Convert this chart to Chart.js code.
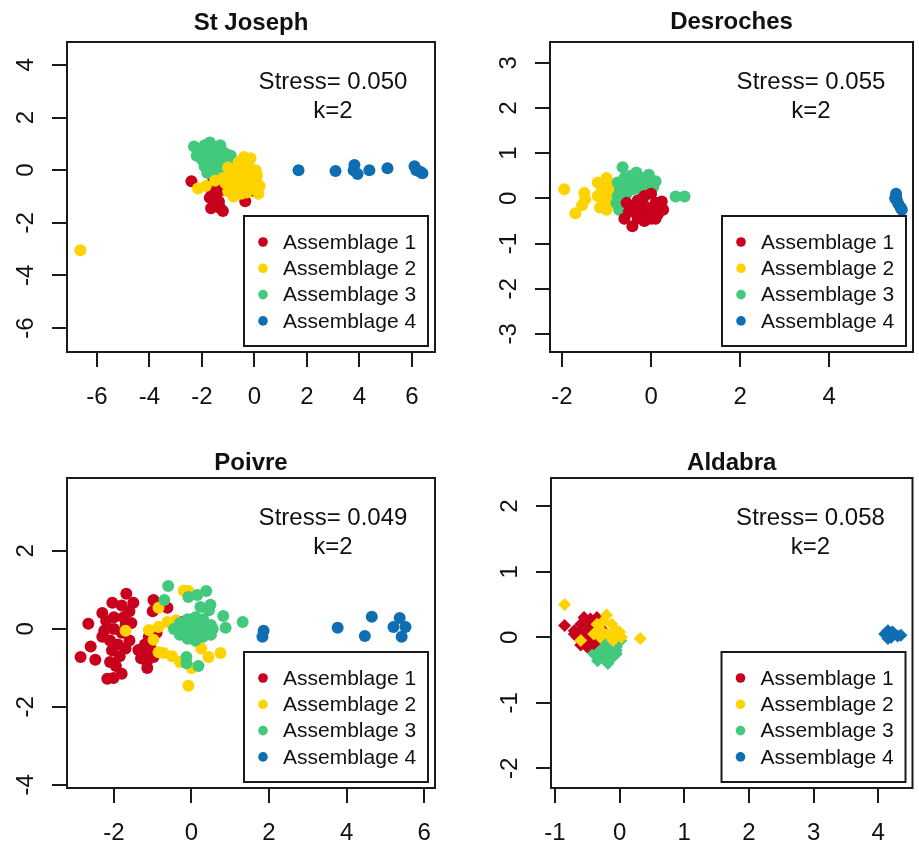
<!DOCTYPE html>
<html>
<head>
<meta charset="utf-8">
<script src="https://cdn.jsdelivr.net/npm/chart.js@4/dist/chart.umd.min.js"></script>
<style>
  html, body { margin: 0; padding: 0; background: #fff; }
  body { position: relative; width: 919px; height: 844px; overflow: hidden; }
  canvas { position: absolute; }
</style>
</head>
<body>
<script>
const FONT = "'Liberation Sans', Arial, Helvetica, sans-serif";

const assemblageLabels = ['Assemblage 1', 'Assemblage 2', 'Assemblage 3', 'Assemblage 4'];
const assemblageColours = ['#C8001E', '#FFD300', '#43C97D', '#0E6EB1'];

// St Joseph
const stJosephA1 = [[-2.4,-0.42],[-1.56,-0.35],[-1.5,-0.55],[-1.6,-0.85],[-1.45,-0.95],[-1.7,-1.05],[-1.35,-1.2],
  [-1.65,-1.45],[-1.2,-1.55],[-1.4,-1.3],[-0.75,-0.9],[-0.35,-1.18],[0.05,-0.45],[-0.25,0.2],[-0.55,-0.4],
  [-1.25,-0.75],[-0.9,-0.7],[0.0,-0.8],[-1.55,-1.15],[-1.3,-1.45]];
const stJosephA2 = [[-2.15,-0.7],[-1.85,-0.6],[-1.5,-0.4],[-1.2,-0.3],[-1.0,0.1],[-0.8,0.0],[-0.6,0.3],[-0.4,0.5],
  [-0.3,0.3],[-0.2,0.1],[-0.5,0.15],[-0.7,-0.2],[-0.9,-0.3],[-0.5,-0.2],[-0.3,-0.1],[-0.1,-0.3],[0.1,-0.2],
  [0.2,-0.6],[0.15,-0.9],[-0.1,-0.7],[-0.3,-0.5],[-0.6,-0.5],[-0.8,-0.6],[-1.0,-0.8],[-0.8,-1.0],[-0.5,-0.9],
  [-0.3,-0.85],[0.0,-0.5],[-0.15,0.45],[-1.1,-0.5],[-0.7,0.05],[-0.45,-0.65],[0.05,0.0],[-0.2,-0.4],
  [-0.65,-0.75],[-6.63,-3.04]];
const stJosephA3 = [[-2.3,0.9],[-2.1,0.75],[-2.2,0.55],[-1.9,0.95],[-1.7,1.05],[-1.6,0.9],[-1.5,0.85],[-1.35,0.8],
  [-1.2,0.7],[-1.05,0.6],[-0.9,0.55],[-1.8,0.7],[-1.6,0.65],[-1.4,0.6],[-1.2,0.45],[-1.0,0.35],[-2.0,0.4],
  [-1.8,0.4],[-1.6,0.35],[-1.4,0.3],[-1.2,0.2],[-1.9,0.15],[-1.7,0.1],[-1.5,0.05],[-1.3,0.0],[-1.6,-0.15],
  [-1.8,-0.1],[-1.4,-0.25],[-1.1,0.1],[-0.95,-0.25],[-1.7,0.85],[-2.0,0.6],[-1.3,0.95]];
const stJosephA4 = [[1.68,0.0],[3.09,-0.03],[3.81,0.2],[3.78,0.0],[3.93,-0.15],[4.38,0.0],[5.07,0.07],[6.1,0.15],
  [6.17,0.0],[6.4,-0.12],[6.3,-0.05]];

// Desroches
const desrochesA1 = [[-0.42,-0.62],[-0.6,-0.45],[-0.5,-0.3],[-0.35,-0.15],[-0.2,-0.05],[0.0,0.1],[-0.1,-0.2],[0.1,-0.1],
  [0.24,-0.07],[0.27,-0.25],[0.15,-0.35],[0.0,-0.45],[-0.15,-0.5],[-0.3,-0.45],[-0.45,-0.2],[-0.25,-0.3],
  [0.05,-0.25],[-0.1,-0.4],[0.1,-0.45],[-0.3,-0.05],[-0.55,-0.1],[-0.15,0.05]];
const desrochesA2 = [[-1.95,0.2],[-1.7,-0.33],[-1.5,0.12],[-1.48,-0.02],[-1.55,-0.15],[-1.2,0.35],[-1.0,0.45],[-0.9,0.3],
  [-1.1,0.2],[-0.95,0.1],[-1.2,0.05],[-1.05,-0.05],[-0.85,-0.1],[-1.15,-0.2],[-1.0,-0.25],[-0.9,0.0],[-1.05,0.3],
  [-0.8,0.15]];
const desrochesA3 = [[-0.64,0.69],[-0.75,0.35],[-0.6,0.45],[-0.45,0.5],[-0.33,0.57],[-0.2,0.45],[-0.05,0.52],[0.1,0.38],
  [0.05,0.25],[-0.1,0.3],[-0.3,0.35],[-0.5,0.3],[-0.7,0.2],[-0.75,0.05],[-0.78,-0.1],[-0.72,-0.25],[-0.55,0.1],
  [-0.4,0.2],[-0.2,0.15],[0.55,0.04],[0.75,0.04],[-0.6,-0.1]];
const desrochesA4 = [[5.5,0.1],[5.48,0.0],[5.52,-0.05],[5.55,-0.12],[5.6,-0.2],[5.63,-0.25],[5.5,0.05]];

// Poivre
const poivreA1 = [[-2.66,0.13],[-2.86,-0.72],[-2.48,-0.79],[-2.6,-0.45],[-2.17,-1.28],[-2.01,-1.26],[-1.8,-1.15],
  [-1.95,-0.95],[-2.1,-0.85],[-1.68,0.9],[-2.04,0.67],[-1.8,0.6],[-2.3,0.41],[-1.5,0.67],[-1.6,0.45],[-1.75,0.3],
  [-2.2,0.2],[-2.0,0.3],[-2.25,-0.05],[-2.0,0.0],[-1.8,-0.1],[-2.1,-0.3],[-1.9,-0.4],[-1.7,-0.5],[-2.05,-0.55],
  [-1.85,-0.7],[-1.6,-0.3],[-2.3,-0.2],[-1.55,0.15],[-1.7,0.1],[-0.98,0.74],[-0.9,0.6],[-0.62,0.54],[-1.0,0.45],
  [-1.14,-1.0],[-0.98,-0.72],[-1.37,-0.54],[-1.2,-0.4],[-1.05,-0.5],[-1.3,-0.75],[-1.1,-0.2],[-1.2,-0.6],
  [-0.28,0.18],[-1.15,-0.85],[-0.9,-0.1]];
const poivreA2 = [[-0.08,0.97],[-0.2,0.98],[-0.85,0.54],[-0.62,0.18],[-0.4,0.22],[-1.1,-0.03],[-0.98,-0.28],[-0.85,0.05],
  [-0.72,-0.62],[-0.5,-0.7],[-0.3,-0.85],[0.0,-1.0],[-0.08,-1.46],[0.44,-0.72],[0.75,-0.62],[0.15,-0.33],
  [-0.85,-0.6],[-1.7,-0.05],[-0.45,0.15],[0.25,-0.5]];
const poivreA3 = [[-0.6,1.1],[-0.7,0.74],[-0.08,0.82],[0.15,0.87],[0.38,0.97],[0.23,0.56],[0.49,0.62],[0.45,0.48],
  [0.82,0.33],[0.88,0.03],[1.32,0.18],[-0.45,0.0],[-0.3,0.15],[-0.3,-0.15],[-0.1,0.25],[-0.1,-0.25],[0.1,0.3],
  [0.1,0.0],[0.1,-0.3],[0.3,0.25],[0.3,-0.2],[0.5,0.1],[0.5,-0.15],[0.0,0.1],[0.2,0.1],[0.35,0.0],[-0.2,0.0],
  [-0.13,-0.72],[-0.13,-0.88],[0.18,-0.95],[0.55,0.0],[-0.05,-0.1]];
const poivreA4 = [[1.86,-0.05],[1.83,-0.2],[3.77,0.03],[4.65,0.31],[4.47,-0.18],[5.37,0.28],[5.21,0.05],[5.52,0.05],
  [5.42,-0.2]];

// Aldabra
const aldabraA1 = [[-0.85,0.18],[-0.7,0.1],[-0.6,0.2],[-0.55,0.3],[-0.45,0.28],[-0.35,0.3],[-0.5,0.1],[-0.4,0.15],
  [-0.3,0.2],[-0.65,0.0],[-0.55,-0.05],[-0.45,0.0],[-0.35,-0.05],[-0.6,-0.12],[-0.5,-0.15],[-0.25,0.1],
  [-0.4,-0.1],[-0.7,0.05],[-0.5,0.22],[-0.62,0.08],[-0.45,0.12],[-0.38,0.05],[-0.55,0.02]];
const aldabraA2 = [[-0.85,0.5],[0.32,-0.02],[-0.2,0.34],[-0.25,0.25],[-0.12,0.2],[-0.05,0.1],[0.03,0.0],[-0.3,0.12],
  [-0.18,0.05],[-0.35,0.2],[-0.4,0.05],[-0.6,-0.05],[-0.1,-0.05],[-0.3,0.0],[0.0,0.08]];
const aldabraA3 = [[-0.45,-0.15],[-0.35,-0.1],[-0.25,-0.05],[-0.15,0.0],[0.02,-0.05],[-0.05,-0.15],[-0.15,-0.15],
  [-0.3,-0.2],[-0.4,-0.25],[-0.2,-0.25],[-0.1,-0.3],[-0.25,-0.32],[-0.34,-0.36],[-0.18,-0.4],[-0.05,-0.2],[-0.3,-0.1],
  [-0.2,-0.1],[-0.1,-0.1],[-0.25,-0.15],[-0.35,-0.25],[-0.15,-0.3],[-0.05,-0.25],[-0.22,-0.35],[-0.1,-0.2]];
const aldabraA4 = [[4.1,0.05],[4.15,0.1],[4.2,0.0],[4.25,0.05],[4.3,0.02],[4.15,-0.02],[4.35,0.03],[4.22,0.08]];

// axis ticks
const stJosephXTicks = [-6, -4, -2, 0, 2, 4, 6];
const stJosephYTicks = [-6, -4, -2, 0, 2, 4];
const desrochesXTicks = [-2, 0, 2, 4];
const desrochesYTicks = [-3, -2, -1, 0, 1, 2, 3];
const poivreXTicks = [-2, 0, 2, 4, 6];
const poivreYTicks = [-4, -2, 0, 2];
const aldabraXTicks = [-1, 0, 1, 2, 3, 4];
const aldabraYTicks = [-2, -1, 0, 1, 2];

const panels = [
  { title: 'St Joseph', stress: 'Stress= 0.050', series: [stJosephA1, stJosephA2, stJosephA3, stJosephA4],
    order: [3, 1, 2, 0], xTicks: stJosephXTicks, yTicks: stJosephYTicks,
    xMin: -7.14, xMax: 6.88, yMin: -6.91, yMax: 4.87, marker: 'circle', radius: 6,
    left: 0, top: 0, w: 460, h: 420, plotLeft: 67, plotRight: 435, xAxisH: 68, titleTop: 8.6, titleBottom: 4.6 },
  { title: 'Desroches', stress: 'Stress= 0.055', series: [desrochesA1, desrochesA2, desrochesA3, desrochesA4],
    order: [1, 3, 2, 0], xTicks: desrochesXTicks, yTicks: desrochesYTicks,
    xMin: -2.27, xMax: 5.88, yMin: -3.4, yMax: 3.46, marker: 'circle', radius: 6,
    left: 460, top: 0, w: 459, h: 420, plotLeft: 90, plotRight: 458, xAxisH: 68, titleTop: 8.3, titleBottom: 4.9 },
  { title: 'Poivre', stress: 'Stress= 0.049', series: [poivreA1, poivreA2, poivreA3, poivreA4],
    order: [3, 2, 1, 0], xTicks: poivreXTicks, yTicks: poivreYTicks,
    xMin: -3.21, xMax: 6.28, yMin: -4.08, yMax: 3.87, marker: 'circle', radius: 6,
    left: 0, top: 420, w: 460, h: 424, plotLeft: 67, plotRight: 435, xAxisH: 56, titleTop: 28.9, titleBottom: 0.3 },
  { title: 'Aldabra', stress: 'Stress= 0.058', series: [aldabraA1, aldabraA2, aldabraA3, aldabraA4],
    order: [2, 1, 3, 0], xTicks: aldabraXTicks, yTicks: aldabraYTicks,
    xMin: -1.06, xMax: 4.53, yMin: -2.3, yMax: 2.43, marker: 'rectRot', radius: 6.5,
    left: 460, top: 420, w: 459, h: 424, plotLeft: 91, plotRight: 458, xAxisH: 56, titleTop: 28.9, titleBottom: 0.3 }
];

// box, stress text and R-style legend
const rDecor = {
  id: 'rDecor',
  afterDatasetsDraw(chart, args, opts) {
    const ctx = chart.ctx;
    const a = chart.chartArea;
    ctx.save();
    ctx.strokeStyle = '#1a1a1a';
    ctx.lineWidth = 2;
    ctx.strokeRect(a.left, a.top, a.right - a.left, a.bottom - a.top);

    ctx.fillStyle = '#111';
    ctx.textAlign = 'center';
    ctx.textBaseline = 'middle';
    ctx.font = '24px ' + FONT;
    ctx.fillText(opts.stress, a.right - 102, a.top + 40);
    ctx.fillText('k=2', a.right - 102, a.top + 69);

    const bw = 184, bh = 130;
    const bx = a.right - 7 - bw, by = a.bottom - 6 - bh;
    ctx.fillStyle = '#fff';
    ctx.fillRect(bx, by, bw, bh);
    ctx.strokeRect(bx, by, bw, bh);
    ctx.font = '21px ' + FONT;
    ctx.textAlign = 'left';
    chart.data.datasets.forEach((ds, i) => {
      const yy = by + 26 + i * 26.3;
      ctx.fillStyle = ds.backgroundColor;
      ctx.beginPath();
      ctx.arc(bx + 19, yy, 4.8, 0, Math.PI * 2);
      ctx.fill();
      ctx.fillStyle = '#111';
      ctx.fillText(ds.label, bx + 39, yy + 1);
    });
    ctx.restore();
  }
};

function axisOptions(p, axis) {
  const isX = axis === 'x';
  return {
    type: 'linear',
    min: isX ? p.xMin : p.yMin,
    max: isX ? p.xMax : p.yMax,
    afterBuildTicks: (scale) => {
      scale.ticks = (isX ? p.xTicks : p.yTicks).map(v => ({ value: v }));
    },
    afterFit: (scale) => {
      if (isX) scale.height = p.xAxisH;
      else scale.width = p.plotLeft;
    },
    border: { display: false },
    grid: {
      drawOnChartArea: false,
      drawTicks: true,
      tickLength: 15,
      tickWidth: 2,
      tickColor: '#1a1a1a',
      lineWidth: 2,
      color: '#1a1a1a'
    },
    ticks: {
      color: '#111',
      font: { family: FONT, size: 24 },
      padding: isX ? 16 : 15,
      minRotation: isX ? 0 : 90,
      maxRotation: isX ? 0 : 90,
      crossAlign: isX ? 'near' : 'center',
      autoSkip: false,
      callback: (v) => String(v)
    }
  };
}

function makePanel(p) {
  const canvas = document.createElement('canvas');
  canvas.width = p.w;
  canvas.height = p.h;
  canvas.style.left = p.left + 'px';
  canvas.style.top = p.top + 'px';
  canvas.style.width = p.w + 'px';
  canvas.style.height = p.h + 'px';
  document.body.appendChild(canvas);

  const datasets = p.series.map((pts, i) => ({
    label: assemblageLabels[i],
    data: pts.map(pt => ({ x: pt[0], y: pt[1] })),
    backgroundColor: assemblageColours[i],
    borderWidth: 0,
    pointStyle: p.marker,
    pointRadius: p.radius,
    pointHoverRadius: p.radius,
    order: p.order[i]
  }));

  new Chart(canvas, {
    type: 'scatter',
    data: { datasets },
    options: {
      responsive: false,
      animation: false,
      devicePixelRatio: 1,
      layout: { padding: { left: 0, right: p.w - p.plotRight, top: 0, bottom: 0 } },
      scales: { x: axisOptions(p, 'x'), y: axisOptions(p, 'y') },
      plugins: {
        legend: { display: false },
        tooltip: { enabled: false },
        title: {
          display: true,
          text: p.title,
          fullSize: false,
          color: '#111',
          font: { family: FONT, size: 24, weight: 'bold' },
          padding: { top: p.titleTop, bottom: p.titleBottom }
        },
        rDecor: { stress: p.stress }
      }
    },
    plugins: [rDecor]
  });
}

panels.forEach(makePanel);
</script>
</body>
</html>
